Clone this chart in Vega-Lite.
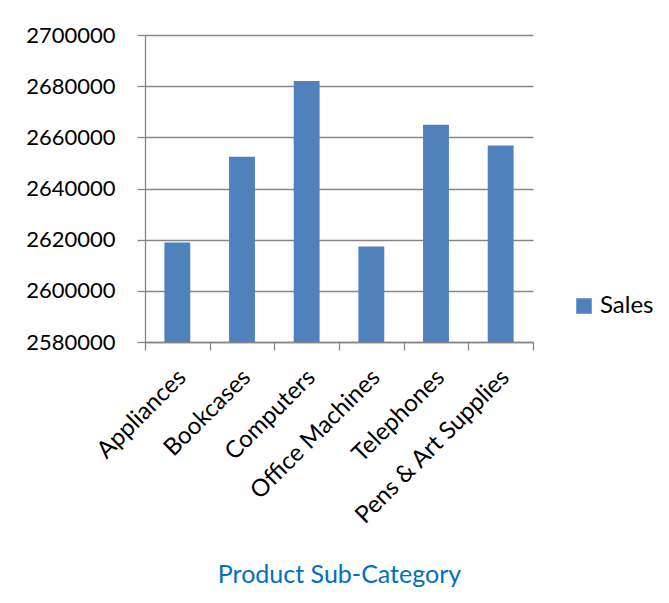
{
  "$schema": "https://vega.github.io/schema/vega-lite/v6.json",
  "autosize": {"type": "none"},
  "padding": {"left": 145, "top": 35, "right": 136, "bottom": 261},
  "width": 388,
  "height": 307,
  "background": "white",
  "config": {
    "font": "Lato",
    "view": {"stroke": null}
  },
  "data": {
    "values": [
      {"category": "Appliances", "sales": 2618900, "series": "Sales"},
      {"category": "Bookcases", "sales": 2652400, "series": "Sales"},
      {"category": "Computers", "sales": 2682000, "series": "Sales"},
      {"category": "Office Machines", "sales": 2617300, "series": "Sales"},
      {"category": "Telephones", "sales": 2664900, "series": "Sales"},
      {"category": "Pens & Art Supplies", "sales": 2656800, "series": "Sales"}
    ]
  },
  "mark": {"type": "bar", "width": {"band": 0.4}, "clip": true},
  "encoding": {
    "x": {
      "field": "category",
      "type": "nominal",
      "sort": null,
      "scale": {"paddingInner": 0, "paddingOuter": 0},
      "axis": {
        "title": "Product Sub-Category",
        "titleFont": "Lato",
        "titleFontSize": 25,
        "titleFontWeight": "normal",
        "titleColor": "#0070C0",
        "titleY": 240,
        "titleBaseline": "alphabetic",
        "labelAngle": -45,
        "labelFontSize": 24,
        "labelColor": "#000000",
        "labelPadding": 15,
        "labelOffset": -4,
        "labelLimit": 0,
        "tickBand": "extent",
        "tickSize": 8,
        "tickColor": "#868686",
        "tickWidth": 1.3,
        "domainColor": "#868686",
        "domainWidth": 1.3,
        "grid": false
      }
    },
    "y": {
      "field": "sales",
      "type": "quantitative",
      "scale": {"domain": [2580000, 2700000], "nice": false, "zero": false},
      "axis": {
        "title": null,
        "values": [2580000, 2600000, 2620000, 2640000, 2660000, 2680000, 2700000],
        "format": "d",
        "labelFontSize": 22,
        "labelColor": "#000000",
        "labelPadding": 22,
        "tickSize": 8,
        "tickColor": "#868686",
        "tickWidth": 1.3,
        "domainColor": "#868686",
        "domainWidth": 1.3,
        "gridColor": "#868686",
        "gridWidth": 1.3
      }
    },
    "color": {
      "field": "series",
      "type": "nominal",
      "scale": {"range": ["#4F81BD"]},
      "legend": {
        "title": null,
        "orient": "none",
        "legendX": 427,
        "legendY": 259,
        "symbolType": "square",
        "symbolSize": 240,
        "symbolStrokeWidth": 0,
        "labelFontSize": 24,
        "labelColor": "#000000",
        "labelOffset": 4,
        "padding": 0
      }
    }
  }
}
